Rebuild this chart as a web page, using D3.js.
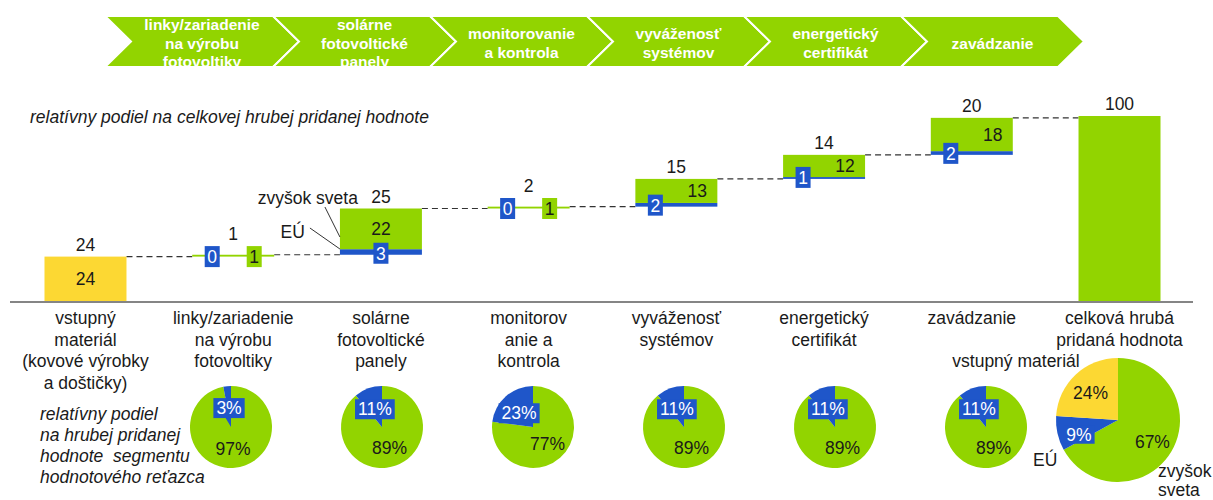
<!DOCTYPE html>
<html>
<head>
<meta charset="utf-8">
<title>hodnotový reťazec - fotovoltika</title>
<script src="https://d3js.org/d3.v7.min.js"></script>
<style>
    body { margin: 0; background: #fff; }
    text { font-family: "Liberation Sans", Arial, sans-serif; fill: #1a1a1a; }
</style>
</head>
<body>
<script>
    // segments of the value chain (green arrows on top)
    let chainSteps = [
        ["linky/zariadenie", "na výrobu", "fotovoltiky"],
        ["solárne", "fotovoltické", "panely"],
        ["monitorovanie", "a kontrola"],
        ["vyváženosť", "systémov"],
        ["energetický", "certifikát"],
        ["zavádzanie"]
    ];

    // waterfall categories
    let categories = ["vstup", "linky", "panely", "monitor", "vyvazenost", "certifikat", "zavadzanie", "celkom"];
    let categoryLabels = [
        ["vstupný", "materiál", "(kovové výrobky", "a doštičky)"],
        ["linky/zariadenie", "na výrobu", "fotovoltiky"],
        ["solárne", "fotovoltické", "panely"],
        ["monitorov", "anie a", "kontrola"],
        ["vyváženosť", "systémov"],
        ["energetický", "certifikát"],
        ["zavádzanie"],
        ["celková hrubá", "pridaná hodnota"]
    ];
    let topLabels = [24, 1, 25, 2, 15, 14, 20, 100];
    let inputValue = 24;
    let totalValue = 100;
    let euValues = [0, 0, 3, 0, 2, 1, 2, 0];
    let worldValues = [0, 1, 22, 1, 13, 12, 18, 0];

    // pies: share of EU / rest of world per segment
    let euShare = [3, 11, 23, 11, 11, 11];
    let worldShare = [97, 89, 77, 89, 89, 89];

    // pie of the total
    let totalShareNames = ["zvyšok sveta", "EÚ", "vstupný materiál"];
    let totalShares = [67, 9, 24];

    let subtitle = "relatívny podiel na celkovej hrubej pridanej hodnote";
    let pieNote = ["relatívny podiel", "na hrubej pridanej", "hodnote  segmentu", "hodnotového reťazca"];

    let green = "#92d400", blue = "#1f56c9", yellow = "#fcd833";
    let fs = 17.5;

    let svg = d3.select("body").append("svg")
        .attr("width", 1213)
        .attr("height", 500);

    // ---------- chevrons ----------
    let bandTop = 16, bandBottom = 67, depth = 26, bandMid = (bandTop + bandBottom) / 2;
    let divX = d3.scaleLinear().domain([0, 6]).range([116, 1058]);

    svg.append("clipPath").attr("id", "band")
        .append("rect").attr("x", 0).attr("y", bandTop).attr("width", 1213).attr("height", bandBottom - bandTop);

    let chev = svg.append("g");
    chainSteps.forEach((lines, i) => {
        let L = i === 0 ? 105 : divX(i);
        let R = divX(i + 1);
        chev.append("polygon")
            .attr("points", [[L, bandTop], [R, bandTop], [R + depth, bandMid], [R, bandBottom], [L, bandBottom], [L + depth, bandMid]].join(" "))
            .attr("fill", green)
            .attr("stroke", "#fff")
            .attr("stroke-width", 2);
        let cx = (L + depth + R) / 2;
        let lh = 18.5;
        let t = chev.append("text")
            .attr("clip-path", "url(#band)")
            .attr("text-anchor", "middle")
            .style("font-weight", "bold")
            .style("font-size", "15.5px")
            .style("fill", "#fff");
        lines.forEach((s, k) => {
            t.append("tspan")
                .attr("x", cx)
                .attr("y", 43 - (lines.length - 1) * lh / 2 + k * lh + 5.5)
                .text(s);
        });
    });

    svg.append("text")
        .attr("x", 30).attr("y", 123)
        .style("font-style", "italic")
        .style("font-size", fs + "px")
        .text(subtitle);

    // ---------- waterfall ----------
    let x = d3.scaleBand().domain(categories).range([12, 1193]).paddingInner(0.445).paddingOuter(0.22);
    let y = d3.scaleLinear().domain([0, 100]).range([301, 116]);
    let bw = x.bandwidth();

    let steps = [];
    let level = inputValue;
    let levels = [inputValue];
    categories.forEach((c, i) => {
        if (i === 0 || i === categories.length - 1) return;
        steps.push({ cat: c, i: i, base: level, eu: euValues[i], world: worldValues[i] });
        level += euValues[i] + worldValues[i];
        levels.push(level);
    });

    // dashed connectors
    let conn = svg.append("g");
    levels.forEach((lv, i) => {
        conn.append("line")
            .attr("x1", x(categories[i]) + bw)
            .attr("x2", x(categories[i + 1]))
            .attr("y1", y(lv)).attr("y2", y(lv))
            .attr("stroke", "#333")
            .attr("stroke-width", 1.2)
            .attr("stroke-dasharray", "6,4");
    });

    // input bar
    svg.append("rect")
        .attr("x", x(categories[0])).attr("width", bw)
        .attr("y", y(inputValue)).attr("height", y(0) - y(inputValue))
        .attr("fill", yellow);
    svg.append("text")
        .attr("x", x(categories[0]) + bw / 2).attr("y", (y(inputValue) + y(0)) / 2 + 6)
        .attr("text-anchor", "middle").style("font-size", fs + "px")
        .text(inputValue);

    // total bar
    let last = categories[categories.length - 1];
    svg.append("rect")
        .attr("x", x(last)).attr("width", bw)
        .attr("y", y(totalValue)).attr("height", y(0) - y(totalValue))
        .attr("fill", green);

    function box(g, cx, cy, txt, fill, color) {
        g.append("rect")
            .attr("x", cx - 7.5).attr("y", cy - 10.5)
            .attr("width", 15).attr("height", 21)
            .attr("fill", fill);
        g.append("text")
            .attr("x", cx).attr("y", cy + 6.5)
            .attr("text-anchor", "middle")
            .style("font-size", fs + "px")
            .style("fill", color)
            .text(txt);
    }

    let bars = svg.append("g");
    steps.forEach(s => {
        let x0 = x(s.cat);
        bars.append("rect")
            .attr("x", x0).attr("width", bw)
            .attr("y", y(s.base + s.eu)).attr("height", y(s.base) - y(s.base + s.eu))
            .attr("fill", blue);
        bars.append("rect")
            .attr("x", x0).attr("width", bw)
            .attr("y", y(s.base + s.eu + s.world)).attr("height", y(s.base + s.eu) - y(s.base + s.eu + s.world))
            .attr("fill", green);
    });
    steps.forEach(s => {
        let x0 = x(s.cat), cx = x0 + bw / 2;
        let tiny = s.eu + s.world < 3;
        let shift = s.cat === "panely" ? 0 : 21;
        if (tiny) {
            box(bars, cx - shift, y(s.base), s.eu, blue, "#fff");
            box(bars, cx + shift, y(s.base), s.world, green, "#1a1a1a");
        } else {
            box(bars, cx - shift, y(s.base) - 1.5, s.eu, blue, "#fff");
            bars.append("text")
                .attr("x", cx + shift)
                .attr("y", (y(s.base + s.eu) + y(s.base + s.eu + s.world)) / 2 + 6)
                .attr("text-anchor", "middle").style("font-size", fs + "px")
                .text(s.world);
        }
    });

    // labels above bars
    categories.forEach((c, i) => {
        let lv = i === 0 ? inputValue : (i === categories.length - 1 ? totalValue : levels[i]);
        let tiny = i > 0 && i < categories.length - 1 && euValues[i] + worldValues[i] < 3;
        svg.append("text")
            .attr("x", x(c) + bw / 2)
            .attr("y", y(lv) - (tiny ? 21 : 12) + 6)
            .attr("text-anchor", "middle").style("font-size", fs + "px")
            .text(topLabels[i]);
    });

    // annotations for the stacked parts
    let bx = x("panely");
    svg.append("text").attr("x", bx + 18).attr("y", 204)
        .attr("text-anchor", "end").style("font-size", fs + "px").text("zvyšok sveta");
    svg.append("line").attr("x1", bx - 15).attr("y1", 207).attr("x2", bx).attr("y2", 237)
        .attr("stroke", "#333").attr("stroke-width", 1);
    svg.append("text").attr("x", bx - 35).attr("y", 238)
        .attr("text-anchor", "end").style("font-size", fs + "px").text("EÚ");
    svg.append("line").attr("x1", bx - 30).attr("y1", 228).attr("x2", bx).attr("y2", 249)
        .attr("stroke", "#333").attr("stroke-width", 1);

    // baseline
    svg.append("line")
        .attr("x1", 10).attr("x2", 1193)
        .attr("y1", y(0) + 1).attr("y2", y(0) + 1)
        .attr("stroke", "#858585").attr("stroke-width", 2);

    // category labels
    categories.forEach((c, i) => {
        let t = svg.append("text").attr("text-anchor", "middle").style("font-size", fs + "px");
        categoryLabels[i].forEach((s, k) => {
            t.append("tspan").attr("x", x(c) + bw / 2).attr("y", 324 + k * 21.5).text(s);
        });
    });

    // ---------- pies ----------
    let note = svg.append("text").style("font-style", "italic").style("font-size", fs + "px")
        .style("white-space", "pre");
    pieNote.forEach((s, k) => {
        note.append("tspan").attr("x", 40).attr("y", 420 + k * 21).text(s);
    });

    let pie = d3.pie().sort(null).value(d => d.v);
    let pieX = d3.scaleLinear().domain([0, 5]).range([231, 986]);
    let arc = d3.arc().innerRadius(0).outerRadius(41);

    euShare.forEach((eu, i) => {
        let cx = pieX(i), cy = 427;
        let arcs = pie([{ k: "world", v: worldShare[i] }, { k: "eu", v: eu }]);
        let g = svg.append("g").attr("transform", `translate(${cx},${cy})`);
        g.selectAll("path").data(arcs).join("path")
            .attr("d", arc)
            .attr("fill", d => d.data.k === "eu" ? blue : green);

        let a = arcs[0], m = (a.startAngle + a.endAngle) / 2;
        g.append("text")
            .attr("x", 22 * Math.sin(m)).attr("y", -22 * Math.cos(m) + 6)
            .attr("text-anchor", "middle").style("font-size", fs + "px")
            .text(worldShare[i] + "%");

        let b = arcs[1];
        m = (b.startAngle + b.endAngle) / 2;
        let lx = 21 * Math.sin(m), ly = -21 * Math.cos(m) + 2;
        let ptr = g.append("polygon").attr("fill", blue);
        let rc = g.append("rect").attr("fill", blue);
        let t = g.append("text")
            .attr("x", lx).attr("y", ly + 6)
            .attr("text-anchor", "middle").style("font-size", fs + "px").style("fill", "#fff")
            .text(eu + "%");
        let w = t.node().getComputedTextLength() + 6;
        rc.attr("x", lx - w / 2).attr("y", ly - 10).attr("width", w).attr("height", 20);
        ptr.attr("points", [[-6, ly + 9], [0, ly + 9], [0, 0]].join(" "));
    });

    // total pie
    let tcx = 1118, tcy = 420;
    let tArc = d3.arc().innerRadius(0).outerRadius(62);
    let tColors = [green, blue, yellow];
    let tArcs = pie(totalShares.map((v, i) => ({ k: totalShareNames[i], v: v, c: tColors[i] })));
    let tg = svg.append("g").attr("transform", `translate(${tcx},${tcy})`);
    tg.selectAll("path").data(tArcs).join("path")
        .attr("d", tArc)
        .attr("fill", d => d.data.c);
    tArcs.forEach(d => {
        let m = (d.startAngle + d.endAngle) / 2;
        let lx = 40 * Math.sin(m), ly = -40 * Math.cos(m);
        if (d.data.c === blue) {
            ly += 6;
            let rc = tg.append("rect").attr("fill", blue);
            let t = tg.append("text").attr("x", lx).attr("y", ly + 6)
                .attr("text-anchor", "middle").style("font-size", fs + "px").style("fill", "#fff")
                .text(d.data.v + "%");
            let w = t.node().getComputedTextLength() + 6;
            rc.attr("x", lx - w / 2).attr("y", ly - 9).attr("width", w).attr("height", 18);
        } else {
            tg.append("text").attr("x", lx).attr("y", ly + 2 + 6)
                .attr("text-anchor", "middle").style("font-size", fs + "px")
                .text(d.data.v + "%");
        }
    });
    svg.append("text").attr("x", 1016).attr("y", 367)
        .attr("text-anchor", "middle").style("font-size", fs + "px").text(totalShareNames[2]);
    svg.append("text").attr("x", 1033).attr("y", 466)
        .style("font-size", fs + "px").text(totalShareNames[1]);
    let zs = svg.append("text").style("font-size", fs + "px");
    totalShareNames[0].split(" ").forEach((s, k) => {
        zs.append("tspan").attr("x", 1158).attr("y", 477 + k * 19).text(s);
    });
</script>
</body>
</html>
